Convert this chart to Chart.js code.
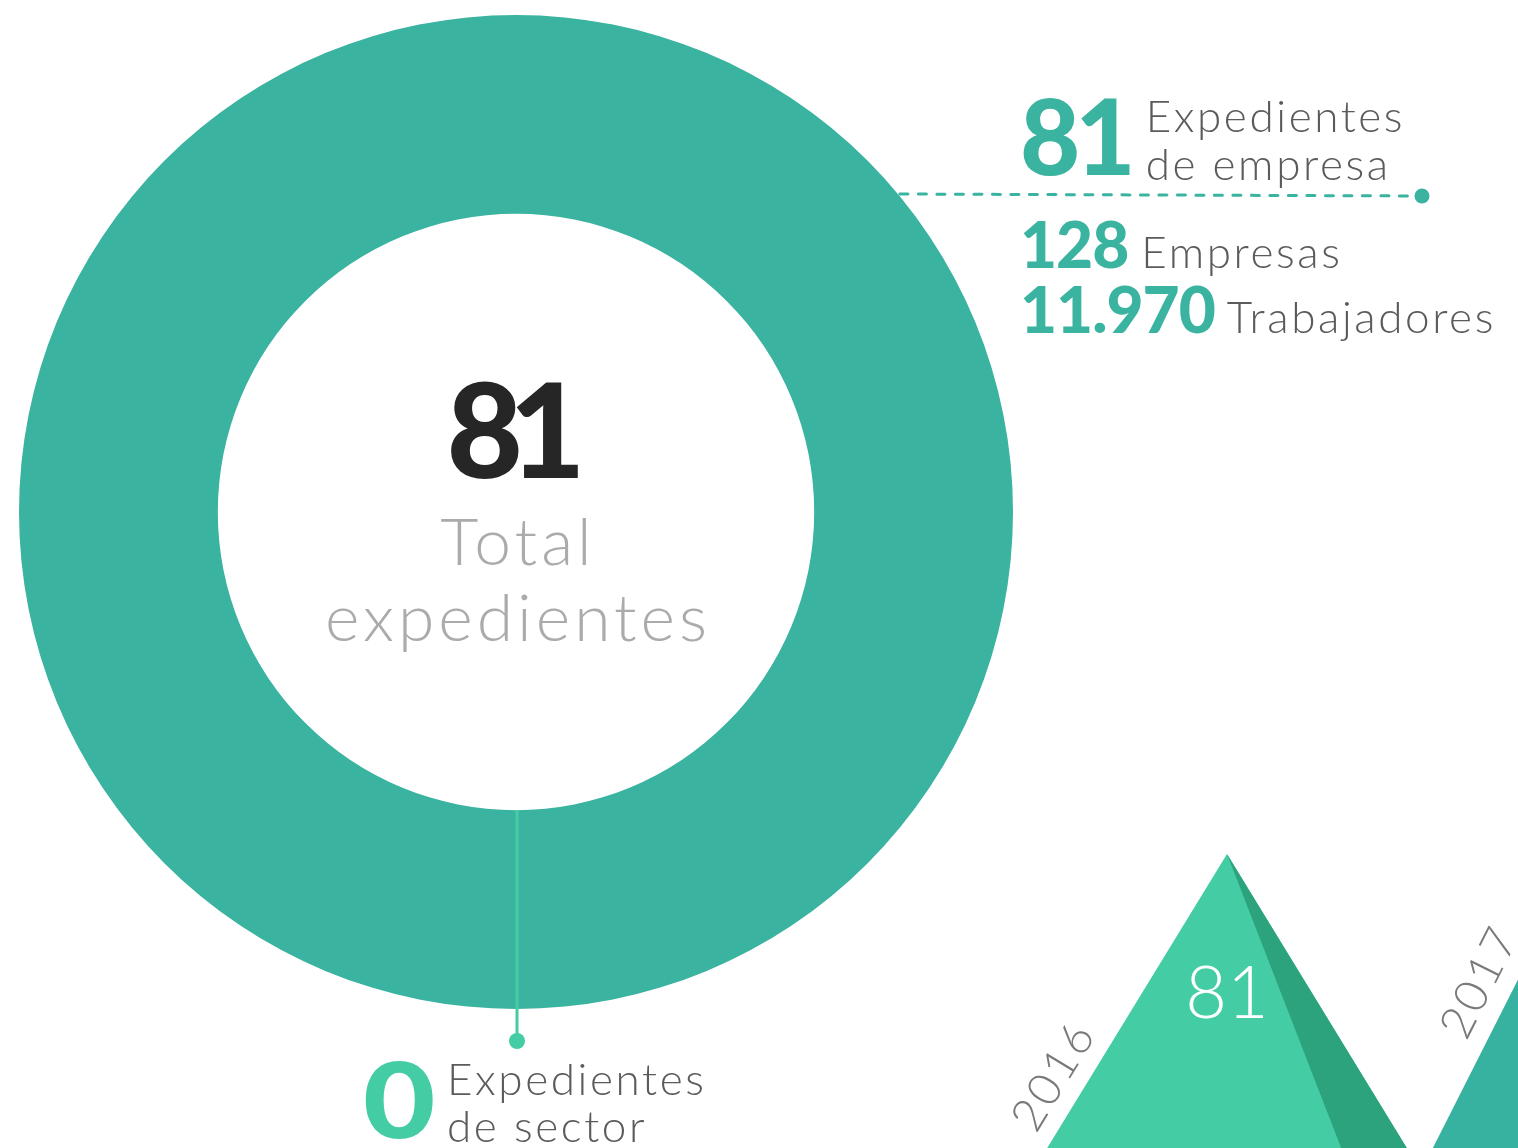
<!DOCTYPE html>
<html>
<head>
<meta charset="utf-8">
<script src="https://cdn.jsdelivr.net/npm/chart.js@4"></script>
<style>
  html, body { margin: 0; padding: 0; background: #fff; overflow: hidden; width: 1518px; height: 1148px; }
  #ringChart { position: absolute; left: 0; top: 0; }
  #peakChart { position: absolute; left: 900px; top: 0; }
</style>
</head>
<body>
<canvas id="ringChart" width="1518" height="1148"></canvas>
<canvas id="peakChart" width="1000" height="1302"></canvas>
<script>
// --- DATA ---
const sectionLabels = ['Expedientes de empresa', 'Expedientes de sector'];
const sectionValues = [81, 0];
const sectionColors = ['#3ab3a0', '#44cda4'];
const centerLines = ['Total', 'expedientes'];
const statLabels = ['Empresas', 'Trabajadores'];
const statValues = [128, 11970];
const years = ['2016', '2017'];
const yearTotals = [81, 98];

const TEAL = '#3ab3a0';
const MINT = '#44cda4';
const LABEL_GREY = '#5b5b5b';

function formatEs(n) {
    return String(n).replace(/\B(?=(\d{3})+(?!\d))/g, '.');
}

// draw text with its left edge at x, letterSpacing handled by the canvas
function spacedText(ctx, txt, x, y, spacing) {
    ctx.letterSpacing = spacing + 'px';
    ctx.fillText(txt, x, y);
    const w = ctx.measureText(txt).width - spacing;
    ctx.letterSpacing = '0px';
    return w;
}

// number in bold + stacked light label lines next to it
function drawStat(ctx, x, baseline, num, numFont, numColor, numSpacing, gap, lines, lineBaselines) {
    ctx.textAlign = 'left';
    ctx.textBaseline = 'alphabetic';
    ctx.font = numFont;
    ctx.fillStyle = numColor;
    const w = spacedText(ctx, num, x, baseline, numSpacing);
    ctx.font = '300 44px Lato';
    ctx.fillStyle = LABEL_GREY;
    lines.forEach((txt, i) => spacedText(ctx, txt, x + w + gap, lineBaselines[i], 2.6));
}

const ringNotes = {
    id: 'ringNotes',
    afterDraw(chart) {
        const ctx = chart.ctx;
        const arc = chart.getDatasetMeta(0).data[0];
        const cx = arc.x, cy = arc.y, R = arc.outerRadius, r = arc.innerRadius;
        const total = sectionValues.reduce((a, b) => a + b, 0);
        ctx.save();

        // centre text
        ctx.textAlign = 'left';
        ctx.textBaseline = 'alphabetic';
        ctx.fillStyle = '#262626';
        ctx.font = '900 132px Lato';
        ctx.letterSpacing = '-14px';
        let w = ctx.measureText(String(total)).width + 14;
        ctx.fillText(String(total), cx - w / 2, cy - 34);
        ctx.fillStyle = '#ababab';
        ctx.font = '300 66px Lato';
        ctx.letterSpacing = '4px';
        centerLines.forEach((txt, i) => {
            w = ctx.measureText(txt).width - 4;
            ctx.fillText(txt, cx - w / 2, cy + 53 + i * 76);
        });
        ctx.letterSpacing = '0px';

        // empresa callout (dashed leader from ring edge)
        const y1 = 194, y2 = 196, xEnd = 1422;
        const sx = cx + Math.sqrt(R * R - (cy - y1) * (cy - y1)) + 2;
        ctx.strokeStyle = TEAL;
        ctx.lineWidth = 3;
        ctx.lineCap = 'round';
        ctx.setLineDash([8, 10.5]);
        ctx.beginPath();
        ctx.moveTo(sx, y1);
        ctx.lineTo(xEnd, y2);
        ctx.stroke();
        ctx.setLineDash([]);
        ctx.fillStyle = TEAL;
        ctx.beginPath();
        ctx.arc(xEnd, y2, 7.5, 0, Math.PI * 2);
        ctx.fill();

        drawStat(ctx, 1020, 175, String(sectionValues[0]), '900 104px Lato', TEAL, -5, 10,
            ['Expedientes', 'de empresa'], [132, 180]);
        drawStat(ctx, 1020, 268, formatEs(statValues[0]), '900 64px Lato', TEAL, -1, 12, [statLabels[0]], [268]);
        drawStat(ctx, 1020, 333, formatEs(statValues[1]), '900 64px Lato', TEAL, -1, 11, [statLabels[1]], [333]);

        // sector callout (vertical leader from inner edge)
        ctx.strokeStyle = MINT;
        ctx.lineWidth = 3;
        ctx.lineCap = 'butt';
        ctx.beginPath();
        ctx.moveTo(cx + 1, cy + r);
        ctx.lineTo(cx + 1, 1040);
        ctx.stroke();
        ctx.fillStyle = MINT;
        ctx.beginPath();
        ctx.arc(cx + 1, 1041, 8, 0, Math.PI * 2);
        ctx.fill();

        // the "0" is stretched a little to the wider geometric digit
        ctx.save();
        ctx.translate(363, 0);
        ctx.scale(1.2, 1);
        ctx.font = '900 104px Lato';
        ctx.fillStyle = MINT;
        ctx.textAlign = 'left';
        ctx.fillText(String(sectionValues[1]), 0, 1138);
        ctx.restore();
        ctx.font = '300 44px Lato';
        ctx.fillStyle = LABEL_GREY;
        spacedText(ctx, 'Expedientes', 447, 1095, 2.6);
        spacedText(ctx, 'de sector', 447, 1142, 2.6);
        ctx.restore();
    }
};

new Chart(document.getElementById('ringChart'), {
    type: 'doughnut',
    data: {
        labels: sectionLabels,
        datasets: [{ data: sectionValues, backgroundColor: sectionColors, borderWidth: 0 }]
    },
    options: {
        responsive: false,
        animation: false,
        cutout: '60%',
        layout: { padding: { left: 19, top: 15, right: 505, bottom: 139 } },
        plugins: { legend: { display: false }, tooltip: { enabled: false } }
    },
    plugins: [ringNotes]
});

// --- PEAKS (yearly totals as triangles) ---
const peakLight = ['#44cda4', '#38b2a0'];
const peakDark = ['#2ca37d', '#2e9887'];

const peakShapes = {
    id: 'peakShapes',
    afterDatasetsDraw(chart) {
        const ctx = chart.ctx;
        const meta = chart.getDatasetMeta(0);
        meta.data.forEach((bar, i) => {
            const { x, y, base, width } = bar.getProps(['x', 'y', 'base', 'width'], true);
            const hw = width / 2, h = base - y;
            ctx.save();
            ctx.fillStyle = peakLight[i];
            ctx.beginPath();
            ctx.moveTo(x - hw, base); ctx.lineTo(x, y); ctx.lineTo(x + hw, base);
            ctx.closePath(); ctx.fill();
            ctx.fillStyle = peakDark[i];
            ctx.beginPath();
            ctx.moveTo(x, y); ctx.lineTo(x + hw * 0.635, base); ctx.lineTo(x + hw, base);
            ctx.closePath(); ctx.fill();

            ctx.fillStyle = '#fff';
            ctx.font = '300 72px Lato';
            ctx.textAlign = 'center';
            ctx.textBaseline = 'alphabetic';
            ctx.fillText(String(yearTotals[i]), x, y + 164);

            const dy = 222;
            const lx = x - hw * (dy / h) - 37;
            ctx.translate(lx, y + dy);
            ctx.rotate(-Math.atan2(h, hw));
            ctx.fillStyle = '#7a7a7a';
            ctx.font = '300 46px Lato';
            ctx.letterSpacing = '3px';
            ctx.textBaseline = 'middle';
            ctx.fillText(years[i], 0, 0);
            ctx.restore();
        });
    }
};

new Chart(document.getElementById('peakChart'), {
    type: 'bar',
    data: {
        labels: years,
        datasets: [{ data: yearTotals, backgroundColor: 'rgba(0,0,0,0)', borderWidth: 0, barThickness: 548 }]
    },
    options: {
        responsive: false,
        animation: false,
        layout: { padding: { left: 126, right: 70, top: 749, bottom: 0 } },
        scales: {
            x: { display: false, offset: true },
            y: { display: false, min: 0, max: 100 }
        },
        plugins: { legend: { display: false }, tooltip: { enabled: false } }
    },
    plugins: [peakShapes]
});
</script>
</body>
</html>
